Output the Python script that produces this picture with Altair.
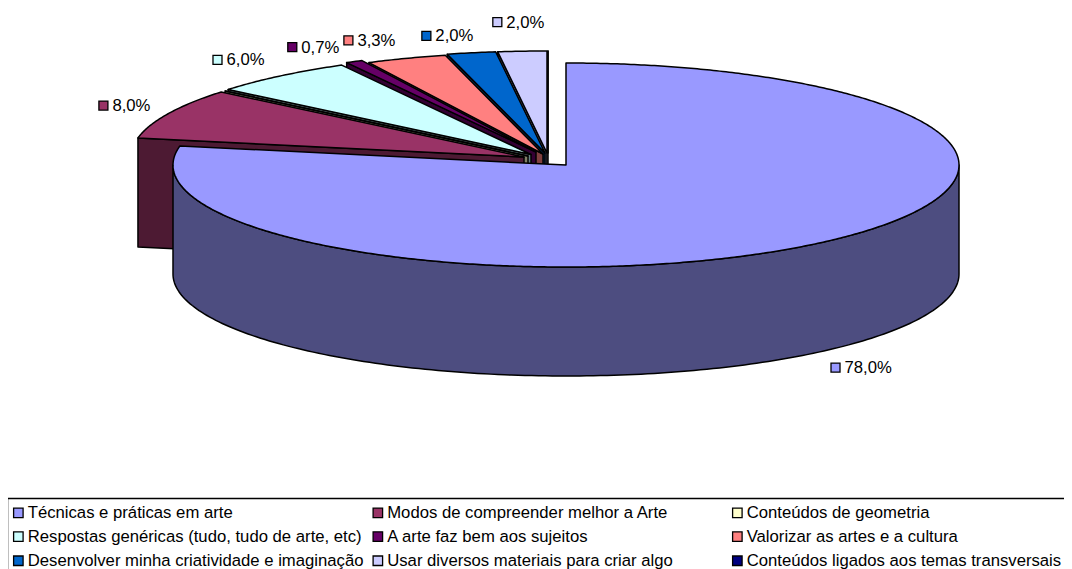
import math
import altair as alt

# ---- chart values -------------------------------------------------------
categories = ["Técnicas e práticas em arte", "Modos de compreender melhor a Arte",
              "Conteúdos de geometria", "Respostas genéricas (tudo, tudo de arte, etc)",
              "A arte faz bem aos sujeitos", "Valorizar as artes e a cultura",
              "Desenvolver minha criatividade e imaginação", "Usar diversos materiais para criar algo",
              "Conteúdos ligados aos temas transversais"]
values = [78.0, 8.0, 0.0, 6.0, 0.7, 3.3, 2.0, 2.0, 0.0]
colors = ["#9999FF", "#993366", "#FFFFCC", "#CCFFFF", "#660066", "#FF8080", "#0066CC", "#CCCCFF", "#000080"]
shades = ["#4D4D80", "#4D1A33", "#808066", "#668080", "#330033", "#804040", "#003366", "#666680", "#000040"]

# ---- pie layout (chart pixels; page margin is 8) ------------------------
M = 8
RX, RY, DEPTH = 393, 102, 109
centers = [(566, 165), (524, 157), (528, 156), (531, 154.5), (536, 152),
           (543, 154), (545, 153), (547, 153), (548, 153)]
label_offsets = [(19, 15 + 109), (-65, -8), None, (-63, -16), (-62, -14.5),
                 (-58, -18), (-45, -17), (-25, -29), None]


def pt(c, deg, dy=0):
    a = math.radians(deg)
    return [c[0] + RX * math.sin(a) - M, c[1] - RY * math.cos(a) + dy - M]


def feature(key, ring, seq):
    ring = ring + [ring[0]]
    return {"type": "Feature", "geometry": {"type": "Polygon", "coordinates": [ring]},
            "properties": {"key": key, "seq": seq}}


starts, acc = [], 0.0
for v in values:
    starts.append(acc)
    acc += v

features = []
labels = []
for i in list(range(len(values) - 1, 0, -1)) + [0]:
    a0 = starts[i] * 3.6
    a1 = (starts[i] + values[i]) * 3.6
    c = centers[i]
    v0 = [c[0] - M, c[1] - M]
    shade_key = categories[i] + " (lado)"
    if i == 0:
        low = [pt(c, 90 + t) for t in range(0, 181)]
        high = [pt(c, 270 - t, DEPTH) for t in range(0, 181)]
        features.append(feature(shade_key, low + high, len(features)))
    else:
        o = pt(c, a0)
        features.append(feature(shade_key,
                                [v0, o, [o[0], o[1] + DEPTH], [v0[0], v0[1] + DEPTH]],
                                len(features)))
    n = max(2, int((a1 - a0) * 2))
    arc = [pt(c, a0 + (a1 - a0) * k / n) for k in range(n + 1)]
    features.append(feature(categories[i], [v0] + arc, len(features)))

for i, off in enumerate(label_offsets):
    if off is None:
        continue
    mid = (starts[i] + values[i] / 2) * 3.6
    p = pt(centers[i], mid)
    labels.append({"x": p[0] + off[0], "y": p[1] + off[1], "tx": p[0] + off[0] + 9,
                   "ty": p[1] + off[1] + 0.5,
                   "hex": colors[i], "text": f"{values[i]:.1f}".replace(".", ",") + "%"})

domain = categories + [c + " (lado)" for c in categories]
rng = colors + shades

FONT = "Liberation Sans"
FS = 16.7

pie = alt.Chart(alt.Data(values=features)).mark_geoshape(
    stroke="black", strokeWidth=1.5, strokeJoin="round", opacity=1
).encode(
    color=alt.Color(
        "properties.key:N",
        scale=alt.Scale(domain=domain, range=rng),
        legend=alt.Legend(
            orient="none", legendX=2, legendY=496, columns=3, values=categories,
            direction="horizontal",
            title=None, gridAlign="all", labelFont=FONT, labelFontSize=FS,
            labelColor="#000000", symbolType="square", symbolSize=90,
            symbolStrokeColor="black", symbolStrokeWidth=1.3, labelOffset=1,
            rowPadding=6.2, columnPadding=5.5, labelLimit=400, padding=0,
        ),
    ),
    order=alt.Order("properties.seq:Q"),
).project(type="identity", scale=1, translate=[0, 0])

label_data = alt.Data(values=labels)
squares = alt.Chart(label_data).mark_square(size=81, stroke="black", strokeWidth=1.3, opacity=1).encode(
    x=alt.X("x:Q", scale=None), y=alt.Y("y:Q", scale=None), fill=alt.Fill("hex:N", scale=None))
texts = alt.Chart(label_data).mark_text(align="left", baseline="middle", font=FONT, fontSize=FS, color="#000000").encode(
    x=alt.X("tx:Q", scale=None), y=alt.Y("ty:Q", scale=None), text="text:N")

box_top = alt.Chart(alt.Data(values=[{"a": 1}])).mark_rule(color="black", strokeWidth=1.5).encode(
    x=alt.value(-1), x2=alt.value(1056), y=alt.value(490.5))
box_left = alt.Chart(alt.Data(values=[{"a": 1}])).mark_rule(color="black", strokeWidth=1.5).encode(
    x=alt.value(-0.5), y=alt.value(490), y2=alt.value(561))

chart = alt.layer(pie, squares, texts, box_top, box_left).properties(
    width=1056, height=561, padding=0, autosize=alt.AutoSizeParams(type="none"), background="white"
).configure_view(stroke=None)

chart.save("out.html", embed_options={"renderer": "svg", "actions": False})
